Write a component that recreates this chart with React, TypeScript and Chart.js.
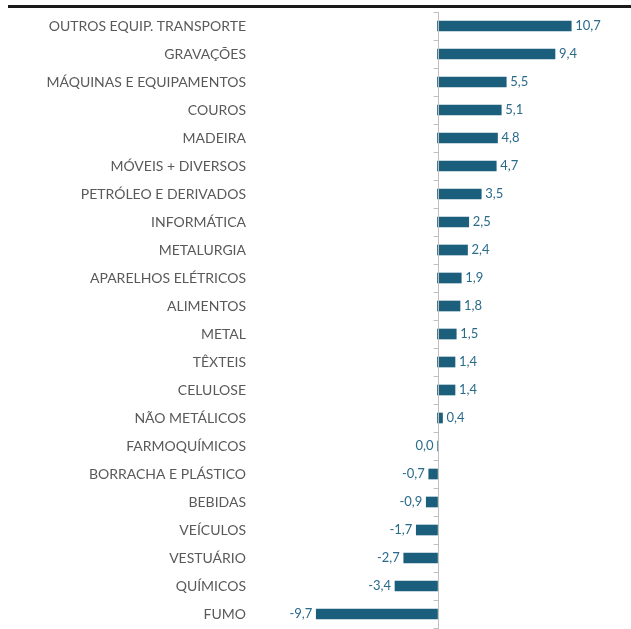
import React, { useEffect, useRef } from "react";
import { Chart, registerables } from "chart.js";

Chart.register(...registerables);

const categories = [
  "OUTROS EQUIP. TRANSPORTE",
  "GRAVAÇÕES",
  "MÁQUINAS E EQUIPAMENTOS",
  "COUROS",
  "MADEIRA",
  "MÓVEIS + DIVERSOS",
  "PETRÓLEO E DERIVADOS",
  "INFORMÁTICA",
  "METALURGIA",
  "APARELHOS ELÉTRICOS",
  "ALIMENTOS",
  "METAL",
  "TÊXTEIS",
  "CELULOSE",
  "NÃO METÁLICOS",
  "FARMOQUÍMICOS",
  "BORRACHA E PLÁSTICO",
  "BEBIDAS",
  "VEÍCULOS",
  "VESTUÁRIO",
  "QUÍMICOS",
  "FUMO",
];

const values = [10.7, 9.4, 5.5, 5.1, 4.8, 4.7, 3.5, 2.5, 2.4, 1.9, 1.8, 1.5, 1.4, 1.4, 0.4, 0.0, -0.7, -0.9, -1.7, -2.7, -3.4, -9.7];

const BAR_COLOR = "#1B5F7C";
const VALUE_COLOR = "#2A6B8A";
const LABEL_COLOR = "#595959";
const FONT = "Lato";

const decorPlugin = {
  id: "decor",
  beforeDraw(chart: any) {
    const ctx = chart.ctx;
    ctx.save();
    ctx.fillStyle = "#1a1a1a";
    ctx.fillRect(8, 5, chart.width - 8, 3);
    ctx.restore();
  },
  afterDatasetsDraw(chart: any) {
    const ctx = chart.ctx;
    const xs = chart.scales.x;
    const ys = chart.scales.y;
    const area = chart.chartArea;
    const x0 = Math.round(xs.getPixelForValue(0)) + 0.5;
    ctx.save();
    ctx.strokeStyle = "#bfbfbf";
    ctx.lineWidth = 1;
    ctx.beginPath();
    ctx.moveTo(x0, area.top);
    ctx.lineTo(x0, chart.height);
    const n = categories.length;
    const step = (area.bottom - area.top) / n;
    for (let i = 0; i <= n; i++) {
      const y = Math.round(area.top + i * step) + 0.5;
      ctx.moveTo(x0 - 5, y);
      ctx.lineTo(x0, y);
    }
    ctx.stroke();

    ctx.fillStyle = VALUE_COLOR;
    ctx.font = `13px ${FONT}`;
    ctx.textBaseline = "middle";
    values.forEach((v, i) => {
      const y = ys.getPixelForValue(i);
      const xe = xs.getPixelForValue(v);
      const txt = v.toFixed(1).replace(".", ",");
      if (v > 0) {
        ctx.textAlign = "left";
        ctx.fillText(txt, xe + 4, y);
      } else {
        ctx.textAlign = "right";
        ctx.fillText(txt, xe - 4, y);
      }
    });
    ctx.restore();
  },
};

export default function App() {
  const ref = useRef<HTMLCanvasElement>(null);
  useEffect(() => {
    const chart = new Chart(ref.current as HTMLCanvasElement, {
      type: "bar",
      data: {
        labels: categories,
        datasets: [
          {
            data: values,
            backgroundColor: BAR_COLOR,
            barThickness: 10,
          },
        ],
      },
      options: {
        indexAxis: "y",
        animation: false,
        responsive: false,
        layout: { padding: { top: 12, bottom: 1, left: 0, right: 6 } },
        plugins: { legend: { display: false }, tooltip: { enabled: false } },
        scales: {
          x: { display: false, min: -15, max: 15 },
          y: {
            afterFit(scale: any) {
              scale.width = 250;
              scale.paddingTop = 0;
              scale.paddingBottom = 0;
            },
            grid: { display: false, drawTicks: false },
            border: { display: false },
            ticks: {
              padding: 4,
              color: LABEL_COLOR,
              font: { family: FONT, size: 14 },
              autoSkip: false,
            },
          },
        },
      },
      plugins: [decorPlugin],
    });
    return () => chart.destroy();
  }, []);
  return (
    <div style={{ position: "fixed", left: 0, top: 0, width: 631, height: 629, background: "#fff" }}>
      <canvas ref={ref} width={631} height={629} style={{ display: "block" }} />
    </div>
  );
}
